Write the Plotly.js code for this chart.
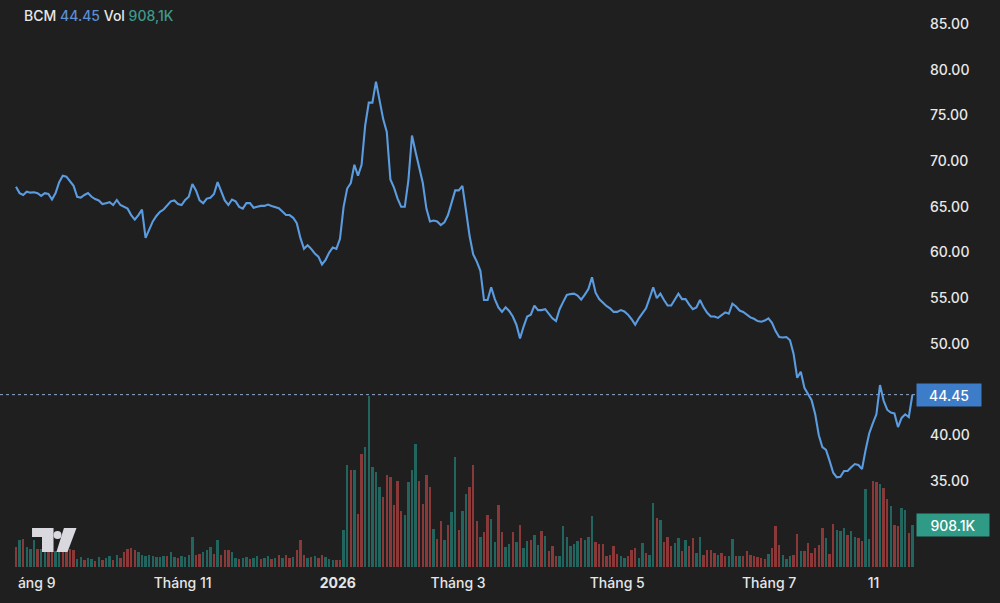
<!DOCTYPE html>
<html>
<head>
<meta charset="utf-8">
<script src="https://cdn.plot.ly/plotly-3.0.1.min.js"></script>
<style>
html,body{margin:0;padding:0;background:#1f1f1f;}
#chart{width:1000px;height:603px;}
</style>
</head>
<body>
<div id="chart"></div>
<script>
// ---- data ----
const symbol = "BCM";
const prices = [
67.2,66.5,66.3,66.65,66.55,66.6,66.5,66.2,66.5,66.4,
65.8,66.5,67.7,68.4,68.3,67.8,67.3,66.1,66.0,66.3,
66.5,66.1,65.85,65.7,65.3,65.4,65.5,65.2,65.75,65.2,
65.0,64.8,64.1,63.6,64.1,64.7,61.6,62.6,63.4,64.0,
64.45,64.7,65.1,65.6,65.7,65.3,65.2,65.75,66.1,67.5,
66.8,65.7,65.4,65.9,66.0,66.4,67.7,66.6,65.7,65.2,
65.8,65.6,65.0,64.8,65.4,65.4,64.9,65.0,65.1,65.1,
65.25,65.1,64.95,64.85,64.5,64.1,64.1,63.8,63.2,61.6,
60.4,60.8,60.4,59.9,59.55,58.7,59.2,60.0,60.55,60.4,
61.5,65.0,67.0,67.6,69.6,68.4,69.6,73.9,76.4,76.4,
78.7,76.8,74.6,73.2,68.0,67.1,65.9,65.0,65.0,67.9,
72.8,71.0,69.3,67.6,64.8,63.4,63.5,63.4,63.0,63.3,
64.1,65.6,66.8,66.8,67.3,64.6,61.8,59.8,59.0,58.0,
54.8,54.8,56.2,54.9,54.0,53.5,54.0,53.6,53.0,52.1,
50.6,51.9,53.0,53.2,54.2,53.7,53.7,53.8,53.3,52.8,
52.5,53.8,54.6,55.35,55.45,55.5,55.3,54.85,55.4,56.0,
57.3,55.6,54.9,54.5,54.15,53.9,53.5,53.5,53.7,53.55,
53.2,52.7,52.1,52.8,53.3,53.9,55.0,56.2,55.0,55.5,
54.8,54.2,54.2,54.9,55.5,54.9,54.9,54.3,53.8,54.0,
54.8,54.0,53.4,53.0,53.0,52.85,53.2,53.45,53.3,54.4,
54.1,53.65,53.5,53.15,52.9,52.75,52.5,52.43,52.55,52.8,
52.3,51.4,50.75,50.7,50.75,50.4,48.9,46.3,46.96,45.2,
44.5,43.85,42.3,40.0,38.7,38.4,37.2,35.9,35.4,35.45,
36.1,36.1,36.5,36.85,36.75,36.3,38.4,40.2,41.3,42.3,
45.5,43.8,42.8,42.5,42.4,40.9,41.9,42.3,42.0,44.45
];
// volume in thousands of shares
const volumes = [
430,580,610,430,400,580,400,380,330,350,
420,350,380,420,400,380,360,180,220,150,
200,170,140,210,160,190,230,150,250,200,
320,400,420,360,320,250,240,250,230,220,
210,240,230,320,220,200,230,210,250,650,
250,280,320,370,430,280,580,250,360,360,
320,200,180,200,210,170,190,230,180,200,
230,180,200,250,200,260,200,220,370,580,
260,200,220,230,200,260,210,180,145,150,
150,800,2200,2100,2100,1150,2450,2600,3700,2160,
2050,1730,1510,1980,1940,1330,1870,1220,1120,1840,
2090,2660,1870,1370,1980,1730,830,610,1000,580,
900,1190,2380,790,1220,1580,1730,2200,1000,650,
760,1120,1040,540,1330,760,430,500,760,540,
910,410,560,590,700,480,770,680,340,450,
240,230,890,650,450,500,560,630,590,650,
1100,530,500,500,230,260,450,280,240,200,
240,370,410,200,520,300,260,1380,1060,1020,
530,650,450,520,630,350,580,450,630,300,
650,260,370,360,300,270,300,240,240,600,
240,240,240,350,260,240,220,200,180,280,
410,880,480,260,180,240,260,720,350,350,
520,300,410,480,840,630,280,930,800,770,
840,700,780,650,630,560,1690,600,1870,1830,
1800,1700,1470,1320,910,890,1270,1240,730,908.1
];
// volume bar direction per session: g = up, r = down
const volDirs = (
"rgrgggrggr"+"rggrrrrggr"+"ggrgrggrgr"+"rrrrgggggg"+"ggrggrgggg"+
"rrgggrgrrr"+"ggrggrggrg"+"grgrgrrgrr"+"rgrgrrgggr"+"rggrgrrggg"+
"ggrrrrrrgg"+"ggrrrrgrrg"+"rggrggrrrg"+"rrggrrggrg"+"rggrggrgrr"+
"rggggggrgg"+"grrrrrrrgg"+"rrrggrggrg"+"rrrggrgrrg"+"grrrrgrrgg"+
"rgrrrrrrrg"+"rrrgggrrgr"+"rrrrrgrrgg"+"grggrrggrr"+"grrgrrggrg"
).split("");
const tickIdx = [5.75, 46.3, 89.4, 122.8, 167, 209.2, 238.2];
const tickLabels = ["áng 9", "Tháng 11", "<b>2026</b>", "Tháng 3", "Tháng 5", "Tháng 7", "11"];
// 45.00 is covered by the last-price label in the reference
const priceTicks = [35, 40, 50, 55, 60, 65, 70, 75, 80, 85];

// ---- build ----
const idx = prices.map((_, i) => i);
const upCol = "rgba(38,166,154,0.52)";
const dnCol = "rgba(239,83,80,0.52)";
const lastP = prices[prices.length - 1];
const lastV = volumes[volumes.length - 1];

const W = 915, H = 567; // plot area in px, for the logo decoration
const px = x => (x / W).toFixed(4);
const py = y => ((H - y) / H).toFixed(4);
function poly(pts){ return "M" + pts.map(p => px(p[0]) + "," + py(p[1])).join(" L") + " Z"; }

const traces = [
  {
    type: "bar", x: idx, y: volumes, yaxis: "y2",
    marker: { color: volDirs.map(d => d === "g" ? upCol : dnCol), line: { width: 0 } },
    width: 0.62, hoverinfo: "skip"
  },
  {
    type: "scatter", mode: "lines", x: idx, y: prices,
    line: { color: "#5b9be0", width: 2.1 }, hoverinfo: "skip"
  }
];

const layout = {
  width: 1000, height: 603,
  margin: { l: 0, r: 85, t: 0, b: 36 },
  paper_bgcolor: "#1f1f1f", plot_bgcolor: "#1f1f1f",
  showlegend: false, bargap: 0,
  font: { family: "Inter, 'Noto Sans', sans-serif", color: "#e8e8e8" },
  xaxis: {
    range: [-4.44, 249.72], showgrid: false, zeroline: false, showline: false,
    tickmode: "array", tickvals: tickIdx, ticktext: tickLabels, ticks: "",
    tickfont: { size: 14, color: "#e6e6e6", weight: 500 }, ticklabelstandoff: 6,
    fixedrange: true
  },
  yaxis: {
    side: "right", range: [25.59, 87.63], showgrid: false, zeroline: false, showline: false,
    tickmode: "array", tickvals: priceTicks, tickformat: ".2f", ticks: "",
    tickfont: { size: 14, color: "#e8e8e8", weight: 500 }, ticklabelstandoff: 14,
    fixedrange: true
  },
  yaxis2: { overlaying: "y", range: [0, 12260], visible: false, fixedrange: true },
  shapes: [
    { type: "line", xref: "paper", yref: "y", x0: 0, x1: 1, y0: lastP, y1: lastP,
      line: { color: "#8fa9c9", width: 1, dash: "dot" }, layer: "below" },
    // TradingView-style logo decoration
    { type: "path", xref: "paper", yref: "paper", line: { width: 0 }, fillcolor: "#d8d8de",
      path: poly([[32,528],[53.5,528],[53.5,552],[42,552],[42,537],[32,537]]) },
    { type: "circle", xref: "paper", yref: "paper", line: { width: 0 }, fillcolor: "#d8d8de",
      x0: px(53.5), x1: px(61.5), y0: py(539), y1: py(531) },
    { type: "path", xref: "paper", yref: "paper", line: { width: 0 }, fillcolor: "#d8d8de",
      path: poly([[64,528],[76.5,528],[67.5,552],[56.5,552]]) }
  ],
  annotations: [
    { xref: "paper", yref: "paper", x: px(22), y: py(15), xanchor: "left", yanchor: "middle",
      showarrow: false, font: { size: 14, color: "#e8e8e8", weight: 500 },
      text: symbol + ' <span style="color:#5b8fd6">' + lastP.toFixed(2) + '</span> Vol <span style="color:#3e9a8a">' +
            lastV.toFixed(1).replace(".", ",") + 'K</span>' },
    { xref: "paper", yref: "y", x: 1, y: lastP, xanchor: "left", yanchor: "middle", xshift: 1,
      showarrow: false, bgcolor: "#3d7cc8", borderpad: 3, width: 58, height: 16, align: "center",
      font: { size: 14, color: "#ffffff", weight: 500 }, text: lastP.toFixed(2) },
    { xref: "paper", yref: "y2", x: 1, y: lastV, xanchor: "left", yanchor: "middle", xshift: 1,
      showarrow: false, bgcolor: "#2f9a86", borderpad: 3, width: 66, height: 16, align: "center",
      font: { size: 14, color: "#ffffff", weight: 500 }, text: lastV.toFixed(1) + "K" }
  ]
};

Plotly.newPlot("chart", traces, layout, { displayModeBar: false, staticPlot: true });
</script>
</body>
</html>
